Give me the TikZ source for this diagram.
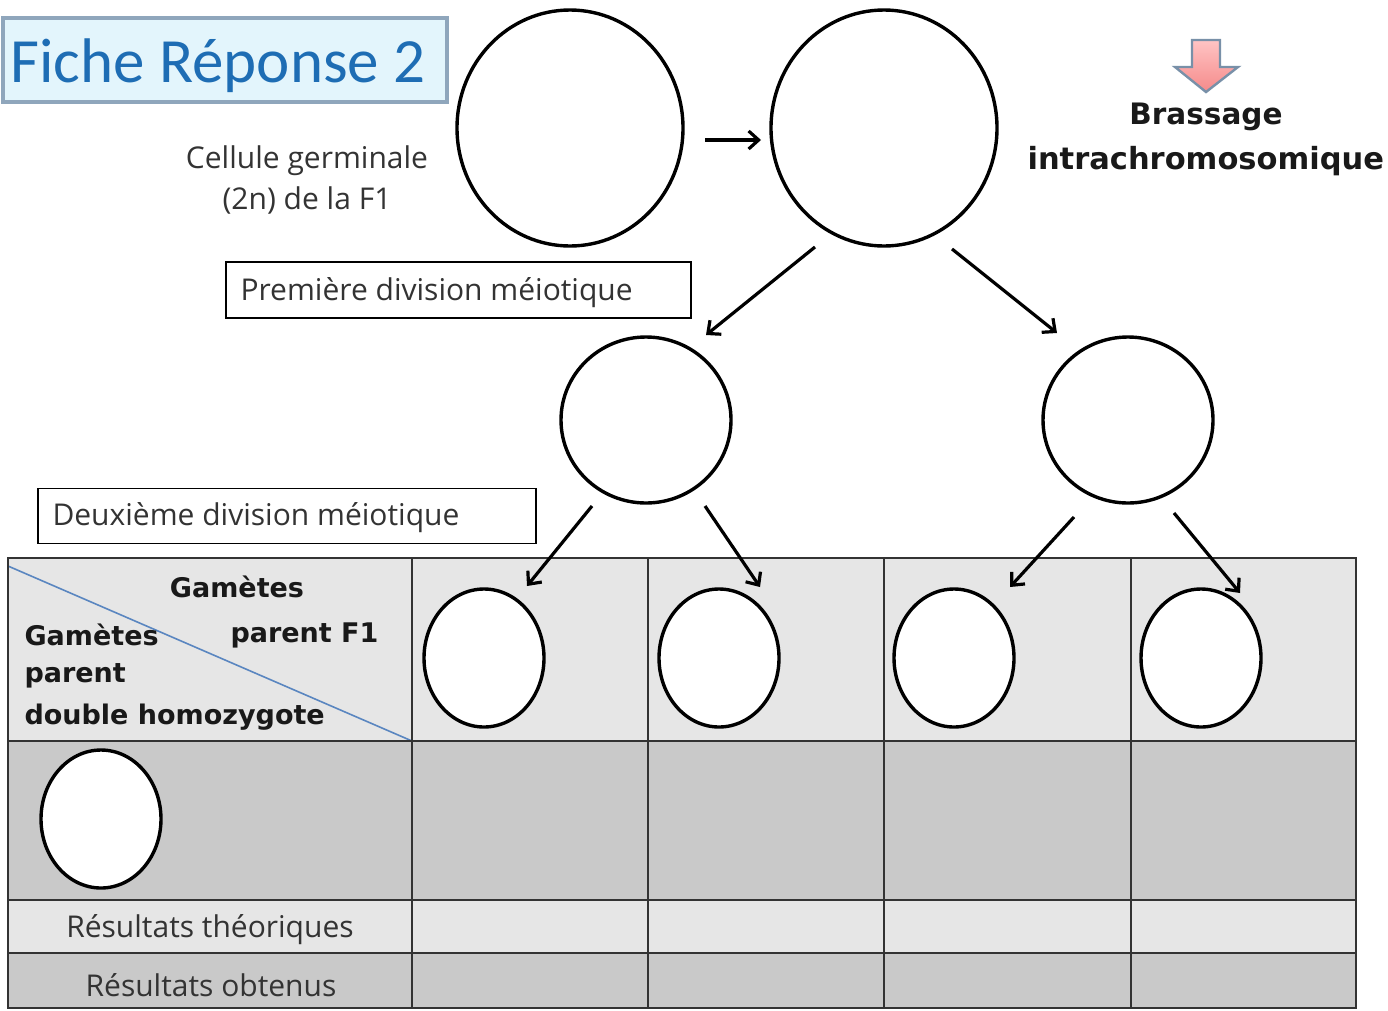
\documentclass[tikz,border=0pt]{standalone}
\usepackage{fontspec}
\setmainfont{Open Sans}
\newfontfamily\titlefont{Carlito}
\newfontfamily\boldfont{DejaVu Sans}[BoldFont={DejaVu Sans Bold}]
\usetikzlibrary{arrows.meta,shapes.geometric,shadows}

\definecolor{titleblue}{HTML}{1E6DB4}
\definecolor{titlefill}{HTML}{E3F5FC}
\definecolor{titleedge}{HTML}{8FA6BC}
\definecolor{lightrow}{HTML}{E6E6E6}
\definecolor{darkrow}{HTML}{C9C9C9}
\definecolor{diagblue}{HTML}{5A86C0}
\definecolor{pinktop}{HTML}{FFC4C4}
\definecolor{pinkbot}{HTML}{F58A8A}
\definecolor{arrowedge}{HTML}{7890A8}

\tikzset{
  cell/.style={ellipse, draw=black, line width=3.4pt, fill=white, inner sep=0pt},
  arr/.style={-{Straight Barb[length=10pt,width=18pt,line width=3.2pt]}, line width=3.2pt},
  labelbox/.style={draw=black, line width=1.8pt, fill=white, anchor=west, inner sep=0pt},
  grid/.style={draw=black!80, line width=2pt},
  regtext/.style={font=\fontsize{30}{41}\selectfont, text=black!80},
  boldtext/.style={font=\boldfont\bfseries\fontsize{27}{32}\selectfont, text=black!90},
  bigbold/.style={font=\boldfont\bfseries\fontsize{29.5}{34}\selectfont, text=black!90},
}

\begin{document}
\begin{tikzpicture}[x=1pt,y=-1pt]
\useasboundingbox (0,0) rectangle (1388,1010);

% title banner
\node[draw=titleedge, line width=3.5pt, fill=titlefill, minimum width=444pt, minimum height=84pt,
      drop shadow={shadow xshift=2pt, shadow yshift=-2pt, opacity=0.35}] (title) at (225,60) {};
\node[font=\titlefont\fontsize{63}{70}\selectfont, text=titleblue, anchor=west] (titletext) at (7,66) {Fiche Réponse 2};

% germ cell and its replicated state
\node[cell, minimum width=226pt, minimum height=236pt] (c1) at (570,128) {};
\node[cell, minimum width=226pt, minimum height=236pt] (c2) at (884,128) {};
\node[regtext, align=center] (germ) at (307,180) {Cellule germinale\\(2n) de la F1};

% pink block arrow
\path[draw=arrowedge, line width=2.4pt, top color=pinktop, bottom color=pinkbot]
  (1192,40) -- (1220,40) -- (1220,67) -- (1238,67) -- (1206,92) -- (1175,67) -- (1192,67) -- cycle;
\node[bigbold] (brassage) at (1206,117) {Brassage};
\node[bigbold, anchor=west, font=\boldfont\bfseries\fontsize{30.5}{34}\selectfont] (intra) at (1024,161) {intrachromosomique};

% first meiotic division
\node[labelbox, minimum width=465pt, minimum height=56pt] (div1) at (225,290) {};
\node[regtext, anchor=west] (div1text) at (237,293) {Première division méiotique};
\node[cell, minimum width=170pt, minimum height=166pt] (m1) at (646,420) {};
\node[cell, minimum width=170pt, minimum height=166pt] (m2) at (1128,420) {};

% second meiotic division
\node[labelbox, minimum width=498pt, minimum height=55pt] (div2) at (37,516) {};
\node[regtext, anchor=west] (div2text) at (49,518) {Deuxième division méiotique};

% table background rows
\fill[lightrow] (8,558) rectangle (1356,741);
\fill[darkrow]  (8,741) rectangle (1356,900);
\fill[lightrow] (8,900) rectangle (1356,953);
\fill[darkrow]  (8,953) rectangle (1356,1008);
\draw[diagblue, line width=1.6pt] (8,566) -- (412,741);
\foreach \yy in {741,900,953} \draw[grid] (8,\yy) -- (1356,\yy);
\foreach \xx in {412,648,884,1131} \draw[grid] (\xx,558) -- (\xx,1008);
\draw[grid] (8,558) rectangle (1356,1008);

% gametes of the F1 parent
\node[cell, minimum width=120pt, minimum height=138pt] (g1) at (484,658) {};
\node[cell, minimum width=120pt, minimum height=138pt] (g2) at (719,658) {};
\node[cell, minimum width=120pt, minimum height=138pt] (g3) at (954,658) {};
\node[cell, minimum width=120pt, minimum height=138pt] (g4) at (1201,658) {};
% gamete of the double homozygous parent
\node[cell, minimum width=120pt, minimum height=138pt] (gh) at (101,819) {};

% table header texts
\node[boldtext] (h1) at (237,587) {Gamètes};
\node[boldtext, anchor=west] (h2) at (21,635) {Gamètes};
\node[boldtext, anchor=east] (h3) at (382,635) {parent F1};
\node[boldtext, anchor=west] (h4) at (21,676) {parent};
\node[boldtext, anchor=west] (h5) at (21,717) {double homozygote};
\node[regtext] (r1) at (210,930) {Résultats théoriques};
\node[regtext] (r2) at (211,985) {Résultats obtenus};

% connector end points
\coordinate (a0s) at (705,140);  \coordinate (a0e) at (761,140);
\coordinate (a1s) at (815,247);  \coordinate (a1e) at (706,335);
\coordinate (a2s) at (952,249);  \coordinate (a2e) at (1057,333);
\coordinate (a3s) at (592,506);  \coordinate (a3e) at (527,586);
\coordinate (a4s) at (705,506);  \coordinate (a4e) at (760,587);
\coordinate (a5s) at (1074,517); \coordinate (a5e) at (1010,587);
\coordinate (a6s) at (1174,513); \coordinate (a6e) at (1240,593);

\draw[arr] (a0s) -- (a0e);
\draw[arr] (a1s) -- (a1e);
\draw[arr] (a2s) -- (a2e);
\draw[arr] (a3s) -- (a3e);
\draw[arr] (a4s) -- (a4e);
\draw[arr] (a5s) -- (a5e);
\draw[arr] (a6s) -- (a6e);
\end{tikzpicture}
\end{document}
